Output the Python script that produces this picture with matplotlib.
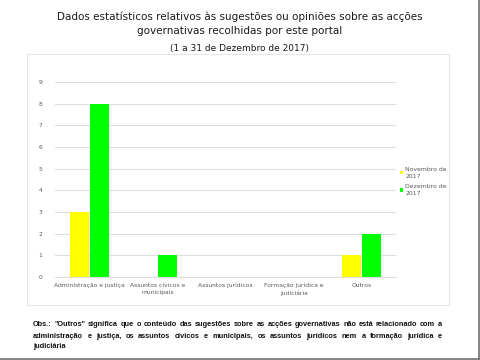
import matplotlib
matplotlib.use("Agg")
import matplotlib.pyplot as plt
import numpy as np
from matplotlib.patches import Rectangle
from matplotlib.lines import Line2D

categories = ["Administração e justiça", "Assuntos cívicos e\nmunicipais", "Assuntos jurídicos",
              "Formação jurídica e\njudiciária", "Outros"]
nov = [3, 0, 0, 0, 1]
dez = [8, 1, 0, 0, 2]
series_names = ["Novembro de\n2017", "Dezembro de\n2017"]
colors = ["#FFFF00", "#00FF00"]

fig = plt.figure(figsize=(4.8, 3.6), dpi=100)
fig.patch.set_facecolor("white")

# inner chart box
fig.add_artist(Rectangle((27/480, 1-305/360), (449-27)/480, (305-54)/360, transform=fig.transFigure,
                         facecolor="white", edgecolor="#e6e6e6", lw=0.8, zorder=-10))
# outer border (right and bottom)
fig.add_artist(Line2D([478.5/480, 478.5/480], [1, 1-358.5/360], transform=fig.transFigure, color="#707070", lw=1.2))
fig.add_artist(Line2D([0, 478.5/480], [1-358.5/360, 1-358.5/360], transform=fig.transFigure, color="#707070", lw=1.2))

ax = fig.add_axes([55/480, 1-277/360, (396-55)/480, (277-82)/360])
ax.patch.set_alpha(0)
x = np.arange(len(categories))
w = 0.28
ax.bar(x - w/2 - 0.007, nov, width=w, color=colors[0], label=series_names[0])
ax.bar(x + w/2 + 0.007, dez, width=w, color=colors[1], label=series_names[1])
ax.set_xlim(-0.5, len(categories)-0.5)
ax.set_ylim(0, 9)
ax.set_yticks(range(0, 10))
ax.set_xticks(x)
ax.set_xticklabels(categories, fontsize=4.3, color="#595959", linespacing=1.5)
ax.tick_params(axis="y", labelsize=4.3, labelcolor="#595959", length=0, pad=9)
ax.tick_params(axis="x", length=0, pad=4)
ax.grid(axis="y", color="#dedede", lw=0.8)
ax.set_axisbelow(True)
for s in ["top", "right", "left"]:
    ax.spines[s].set_visible(False)
ax.spines["bottom"].set_color("#dedede")
ax.spines["bottom"].set_linewidth(0.8)

leg = ax.legend(loc="center left", bbox_to_anchor=(1.0, 0.49), frameon=False,
                prop={"size": 4.4}, handlelength=0.45, handleheight=0.45, handletextpad=0.4,
                labelspacing=0.9, labelcolor="#595959", borderaxespad=0.3)
for t in leg.get_texts():
    t.set_linespacing(1.5)

fig.text(0.5, 1-17/360, "Dados estatísticos relativos às sugestões ou opiniões sobre as acções",
         ha="center", va="center", fontsize=7.5, color="#1a1a1a")
fig.text(0.5, 1-31/360, "governativas recolhidas por este portal",
         ha="center", va="center", fontsize=7.5, color="#1a1a1a")
fig.text(0.5, 1-48/360, "(1 a 31 de Dezembro de 2017)", ha="center", va="center", fontsize=6.5, color="#1a1a1a")

obs = ["Obs.: \"Outros\" significa que o conteúdo das sugestões sobre as acções governativas não está relacionado com a",
       "administração e justiça, os assuntos cívicos e municipais, os assuntos jurídicos nem a formação jurídica e",
       "judiciária"]
ys = [325, 336, 346]
x0, x1 = 33, 442
fig.canvas.draw()
renderer = fig.canvas.get_renderer()
tkw = dict(fontsize=5.3, fontweight="bold", family="Liberation Sans", color="#111111", va="center", ha="left")
for i, (line, yy) in enumerate(zip(obs, ys)):
    if i == len(obs) - 1:
        fig.text(x0/480, 1-yy/360, line, **tkw)
        continue
    words = line.split(" ")
    arts = [fig.text(0, 1-yy/360, wd, **tkw) for wd in words]
    widths = [a.get_window_extent(renderer).width for a in arts]
    gap = max((x1 - x0 - sum(widths)) / (len(words) - 1), 1.5)
    cx = x0
    for a, wdt in zip(arts, widths):
        a.set_x(cx/480)
        cx += wdt + gap

fig.savefig("out.png", dpi=100)
